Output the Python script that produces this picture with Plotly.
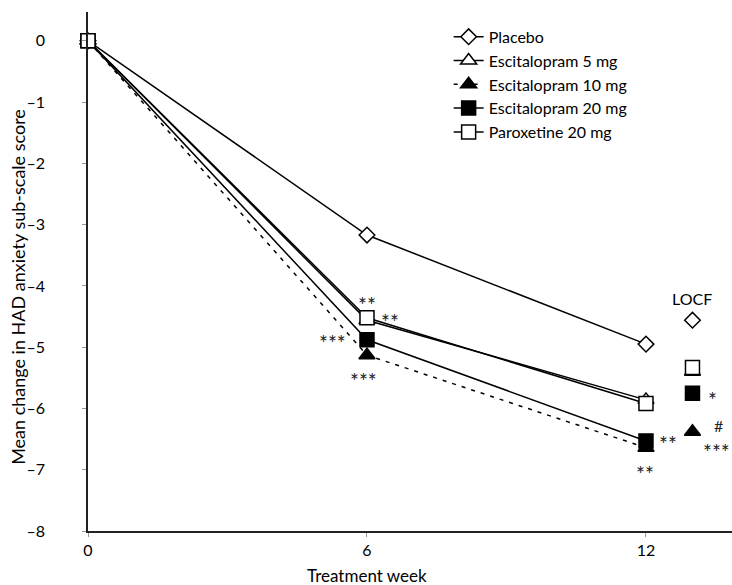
import plotly.graph_objects as go

weeks = [0, 6, 12]
locf_week = 13
series_names = ["Placebo", "Escitalopram 5 mg", "Escitalopram 10 mg",
                "Escitalopram 20 mg", "Paroxetine 20 mg"]
placebo = [0, -3.17, -4.95]
esc5 = [0, -4.56, -5.86]
esc10 = [0, -5.13, -6.64]
esc20 = [0, -4.88, -6.53]
parox = [0, -4.52, -5.92]
locf_vals = [-4.56, -5.40, -6.38, -5.75, -5.33]

y_ticks = [0, -1, -2, -3, -4, -5, -6, -7, -8]
y_ticktext = ["0", "–1", "–2", "–3", "–4", "–5", "–6", "–7", "–8"]
x_ticks = [0, 6, 12]

# significance annotations: (x, y, text)
sig_notes = [
    (6.0, -4.20, "**"),
    (6.50, -4.49, "**"),
    (5.25, -4.83, "***"),
    (5.92, -5.44, "***"),
    (12.47, -6.47, "**"),
    (11.98, -6.96, "**"),
    (13.42, -5.75, "*"),
    (13.55, -6.28, "#"),
    (13.52, -6.60, "***"),
]

FONT = "Lato"
styles = [
    dict(symbol="diamond", color="white", size=12, dash="solid"),
    dict(symbol="triangle-up", color="white", size=14, dash="solid"),
    dict(symbol="triangle-up", color="black", size=14, dash="4px,6px"),
    dict(symbol="square", color="black", size=14, dash="solid"),
    dict(symbol="square", color="white", size=14, dash="solid"),
]
data = [placebo, esc5, esc10, esc20, parox]

fig = go.Figure()
for name, vals, st in zip(series_names, data, styles):
    fig.add_trace(go.Scatter(
        x=weeks, y=vals, name=name, mode="lines+markers",
        line=dict(color="black", width=1.5, dash=st["dash"]),
        marker=dict(symbol=st["symbol"], size=st["size"], color=st["color"],
                    line=dict(color="black", width=1.5)),
        cliponaxis=False,
    ))
for i, (vals, st) in enumerate(zip(locf_vals, styles)):
    fig.add_trace(go.Scatter(
        x=[locf_week], y=[vals], mode="markers", showlegend=False,
        marker=dict(symbol=st["symbol"], size=st["size"], color=st["color"],
                    line=dict(color="black", width=1.5)),
        cliponaxis=False,
    ))

for x, y, t in sig_notes:
    fig.add_annotation(x=x, y=y, text=t, showarrow=False,
                       xanchor="center", yanchor="middle",
                       font=dict(family=FONT, size=21 if t != "#" else 16,
                                 color="#222"),
                       yshift=-6 if t != "#" else 0)
fig.add_annotation(x=locf_week, y=-4.2, text="LOCF", showarrow=False,
                   xanchor="center", yanchor="middle",
                   font=dict(family=FONT, size=16, color="black"))
fig.add_annotation(x=-0.109, y=0.47, xref="paper", yref="paper",
                   xanchor="center", yanchor="middle",
                   text="Mean change in HAD anxiety sub-scale score",
                   textangle=-90, showarrow=False,
                   font=dict(family=FONT, size=18, color="black"))
fig.add_annotation(x=6, y=-0.085, yref="paper",
                   xanchor="center", yanchor="middle",
                   text="Treatment week", showarrow=False,
                   font=dict(family=FONT, size=17, color="black"))

fig.update_layout(
    width=732, height=585,
    margin=dict(l=88, r=0, t=12, b=54),
    paper_bgcolor="white", plot_bgcolor="white",
    font=dict(family=FONT, size=16, color="black"),
    legend=dict(x=0.56, y=0.985, xanchor="left", yanchor="top",
                bgcolor="rgba(0,0,0,0)", font=dict(size=16),
                tracegroupgap=0),
    xaxis=dict(range=[0, 13.85], tickvals=x_ticks, showgrid=False,
               zeroline=False, showline=True, linecolor="#222", linewidth=1.5,
               ticks="outside", ticklen=4, tickcolor="#999",
               tickfont=dict(size=16)),
    yaxis=dict(range=[-8, 0.47], tickvals=y_ticks, ticktext=y_ticktext,
               showgrid=False, zeroline=False, showline=True,
               linecolor="#222", linewidth=1.5,
               ticks="outside", ticklen=4, tickcolor="#999",
               ticklabelstandoff=34, tickfont=dict(size=16)),
)

fig.write_html("out.html")
